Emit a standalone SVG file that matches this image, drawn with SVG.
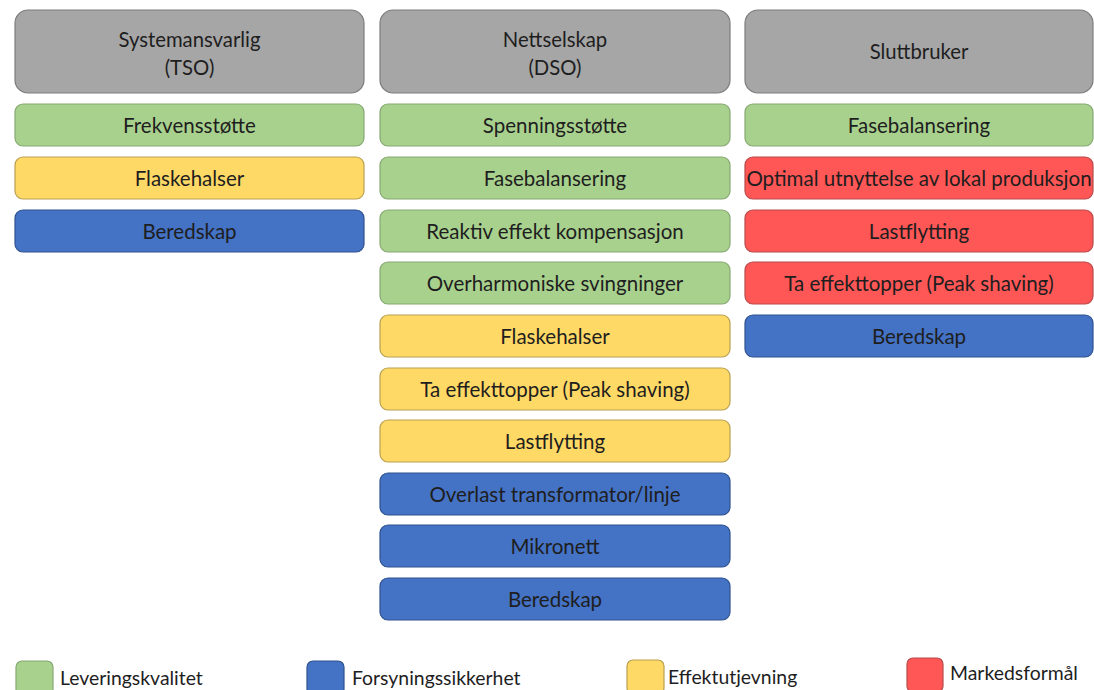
<svg xmlns="http://www.w3.org/2000/svg" width="1094" height="690" viewBox="0 0 1094 690">
<style>
text{font-family:Lato,"Open Sans","Liberation Sans",sans-serif;fill:#1e1e1e;text-anchor:middle}
.h rect{fill:#A6A6A6;stroke:#7c7c7c;stroke-width:1.2}
.h text{font-size:20.3px}
.b rect{stroke-width:1.2}
.b text{font-size:20.5px}
.g rect{fill:#A9D18E;stroke:#86a872}
.y rect{fill:#FFD966;stroke:#b9a050}
.u rect{fill:#4472C4;stroke:#2f528f}
.r rect{fill:#FF5656;stroke:#b84a4a}
.lg text{font-size:19.4px;text-anchor:start}
.lg rect{stroke-width:1.2}
</style>
<rect width="1094" height="690" fill="#ffffff"/>
<g id="connectors"/>
<!-- Headers -->
<g id="tso" class="h"><rect x="15" y="10" width="349" height="83" rx="13"/><text x="189.5" y="47">Systemansvarlig</text><text x="189.5" y="75">(TSO)</text></g>
<g id="dso" class="h"><rect x="380" y="10" width="350" height="83" rx="13"/><text x="555" y="47">Nettselskap</text><text x="555" y="75">(DSO)</text></g>
<g id="sluttbruker" class="h"><rect x="745" y="10" width="348" height="83" rx="13"/><text x="919" y="59">Sluttbruker</text></g>
<!-- Left column -->
<g id="tso-1" class="b g"><rect x="15" y="104" width="349" height="42" rx="8"/><text x="189.5" y="132.5">Frekvensstøtte</text></g>
<g id="tso-2" class="b y"><rect x="15" y="157" width="349" height="42" rx="8"/><text x="189.5" y="185.5">Flaskehalser</text></g>
<g id="tso-3" class="b u"><rect x="15" y="210" width="349" height="42" rx="8"/><text x="189.5" y="238.5">Beredskap</text></g>
<!-- Middle column -->
<g id="dso-1" class="b g"><rect x="380" y="104" width="350" height="42" rx="8"/><text x="555" y="132.5">Spenningsstøtte</text></g>
<g id="dso-2" class="b g"><rect x="380" y="157" width="350" height="42" rx="8"/><text x="555" y="185.5">Fasebalansering</text></g>
<g id="dso-3" class="b g"><rect x="380" y="210" width="350" height="42" rx="8"/><text x="555" y="238.5">Reaktiv effekt kompensasjon</text></g>
<g id="dso-4" class="b g"><rect x="380" y="262" width="350" height="42" rx="8"/><text x="555" y="290.5">Overharmoniske svingninger</text></g>
<g id="dso-5" class="b y"><rect x="380" y="315" width="350" height="42" rx="8"/><text x="555" y="343.5">Flaskehalser</text></g>
<g id="dso-6" class="b y"><rect x="380" y="368" width="350" height="42" rx="8"/><text x="555" y="396.5">Ta effekttopper (Peak shaving)</text></g>
<g id="dso-7" class="b y"><rect x="380" y="420" width="350" height="42" rx="8"/><text x="555" y="448.5">Lastflytting</text></g>
<g id="dso-8" class="b u"><rect x="380" y="473" width="350" height="42" rx="8"/><text x="555" y="501.5">Overlast transformator/linje</text></g>
<g id="dso-9" class="b u"><rect x="380" y="525" width="350" height="42" rx="8"/><text x="555" y="553.5">Mikronett</text></g>
<g id="dso-10" class="b u"><rect x="380" y="578" width="350" height="42" rx="8"/><text x="555" y="606.5">Beredskap</text></g>
<!-- Right column -->
<g id="sb-1" class="b g"><rect x="745" y="104" width="348" height="42" rx="8"/><text x="919" y="132.5">Fasebalansering</text></g>
<g id="sb-2" class="b r"><rect x="745" y="157" width="348" height="42" rx="8"/><text x="919" y="185.5">Optimal utnyttelse av lokal produksjon</text></g>
<g id="sb-3" class="b r"><rect x="745" y="210" width="348" height="42" rx="8"/><text x="919" y="238.5">Lastflytting</text></g>
<g id="sb-4" class="b r"><rect x="745" y="262" width="348" height="42" rx="8"/><text x="919" y="290.5">Ta effekttopper (Peak shaving)</text></g>
<g id="sb-5" class="b u"><rect x="745" y="315" width="348" height="42" rx="8"/><text x="919" y="343.5">Beredskap</text></g>
<!-- Legend -->
<g id="legend-leveringskvalitet" class="lg g"><rect x="16" y="661" width="37" height="34" rx="6"/><text x="60" y="685">Leveringskvalitet</text></g>
<g id="legend-forsyningssikkerhet" class="lg u"><rect x="307" y="661" width="37" height="34" rx="6"/><text x="352" y="685">Forsyningssikkerhet</text></g>
<g id="legend-effektutjevning" class="lg y"><rect x="627" y="660" width="37" height="34" rx="6"/><text x="668" y="684">Effektutjevning</text></g>
<g id="legend-markedsformal" class="lg r"><rect x="907" y="658" width="36" height="34" rx="6"/><text x="950" y="680">Markedsformål</text></g>
</svg>
